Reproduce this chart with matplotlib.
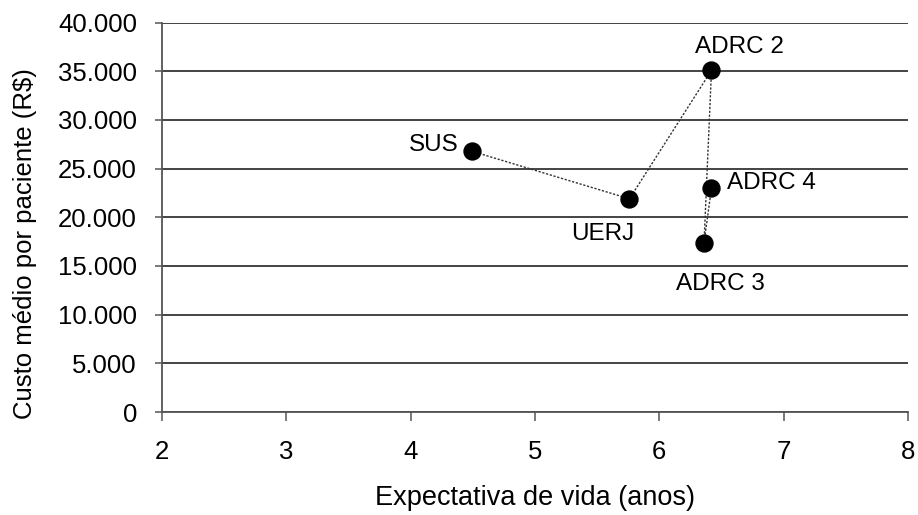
import matplotlib
matplotlib.use("Agg")
import matplotlib.pyplot as plt
from matplotlib.ticker import FuncFormatter

# Expectativa de vida x custo médio por paciente
nomes = ["SUS", "UERJ", "ADRC 2", "ADRC 3", "ADRC 4"]
expectativa = [4.49, 5.76, 6.42, 6.36, 6.42]
custo = [26800, 21900, 35100, 17400, 23000]

# deslocamento dos rótulos (pontos) e alinhamento
rot_offset = {"SUS": (-9.5, 4.5, "right"),
              "UERJ": (-19.5, -25.5, "center"),
              "ADRC 2": (20, 16.5, "center"),
              "ADRC 3": (12, -30, "center"),
              "ADRC 4": (11.5, 3.6, "left")}

plt.rcParams["font.family"] = ["Liberation Sans", "DejaVu Sans"]
estreita = ["Liberation Sans Narrow", "Liberation Sans"]

fig = plt.figure(figsize=(9.18, 5.15), dpi=100)
ax = fig.add_axes([0.1765, 0.2, 0.8125, 0.756])

ax.plot(expectativa, custo, linestyle=(0, (1.6, 1.2)), color="#333333",
        linewidth=1.0, zorder=2)
ax.plot(expectativa, custo, "o", color="black", markersize=12.2, zorder=3)

for n, x, y in zip(nomes, expectativa, custo):
    dx, dy, ha = rot_offset[n]
    ax.annotate(n, (x, y), xytext=(dx, dy), textcoords="offset points",
                ha=ha, va="center", fontsize=17.5)

ax.set_xlim(2, 8)
ax.set_ylim(0, 40000)
ax.set_xticks(range(2, 9))
ax.set_yticks(range(0, 40001, 5000))
ax.yaxis.set_major_formatter(FuncFormatter(lambda v, p: f"{int(v):,}".replace(",", ".")))

ax.grid(axis="y", color="#111111", linewidth=1.1)
ax.set_axisbelow(True)
for s in ["top", "right"]:
    ax.spines[s].set_visible(False)
for s in ["left", "bottom"]:
    ax.spines[s].set_color("#555555")
    ax.spines[s].set_linewidth(1.3)

ax.tick_params(axis="y", length=5, width=1.1, color="#555555", labelsize=18.5, pad=13)
ax.tick_params(axis="x", length=6.5, width=1.1, color="#555555", labelsize=18.5, pad=14)
for t in ax.get_xticklabels():
    t.set_family(estreita)

ax.set_xlabel("Expectativa de vida (anos)", fontsize=19.5, family=estreita, labelpad=14.5)
ax.set_ylabel("Custo médio por paciente (R$)", fontsize=18.5)
ax.yaxis.set_label_coords(-0.1676, 0.433)

fig.savefig("out.png", dpi=100)
